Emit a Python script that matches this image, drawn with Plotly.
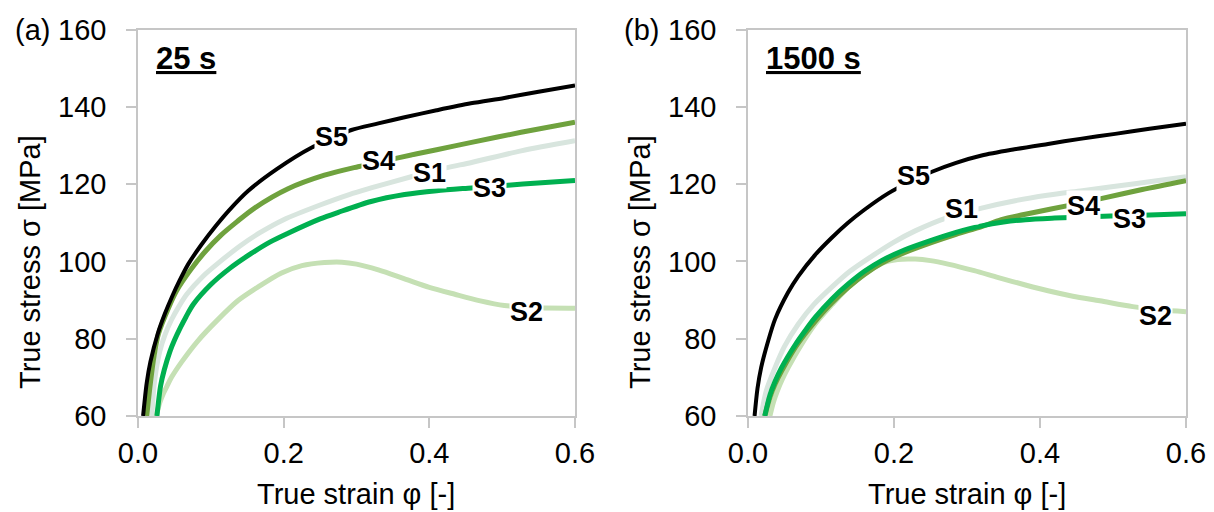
import plotly.graph_objects as go

# ---------------- data ----------------
# Panel (a) 25 s
a_s5_x = [0.007,0.012,0.017,0.027,0.037,0.047,0.057,0.069,0.087,0.107,0.125,0.151,0.19,0.238,0.265,0.293,0.33,0.366,0.41,0.457,0.503,0.55,0.6]
a_s5_y = [60,68.6,74,81.2,86.5,91,95,99.3,104.3,109.2,113.2,118.2,123.8,129.4,131.6,134.0,135.7,137.3,139.1,140.9,142.3,143.9,145.5]
a_s4_x = [0.012,0.017,0.022,0.028,0.042,0.053,0.073,0.092,0.114,0.136,0.16,0.206,0.256,0.302,0.357,0.41,0.458,0.526,0.6]
a_s4_y = [60,68.5,75.5,81.2,88,92.4,98,102.5,106.8,110.3,113.8,118.8,122.3,124.5,126.8,128.9,130.8,133.4,136]
a_s1_x = [0.019,0.022,0.025,0.03,0.037,0.046,0.056,0.067,0.09,0.113,0.14,0.168,0.2,0.25,0.29,0.32,0.375,0.423,0.458,0.526,0.6]
a_s1_y = [60,67.8,72.1,76.8,81,84.9,88.3,91.5,96.3,100,104,107.5,110.8,114.6,117.3,119,121.9,124.2,125.6,128.6,131.2]
a_s3_x = [0.026,0.031,0.036,0.044,0.05,0.058,0.066,0.076,0.1,0.126,0.155,0.181,0.206,0.25,0.275,0.32,0.366,0.41,0.458,0.508,0.549,0.6]
a_s3_y = [60,67.8,71.9,76.8,79.6,82.8,85.7,88.9,94,98.2,102,105,107.3,111,112.7,115.5,117.3,118.3,119,119.7,120.3,120.9]
a_s2_x = [0.025,0.03,0.035,0.04,0.046,0.06,0.082,0.11,0.137,0.165,0.197,0.225,0.256,0.28,0.3,0.33,0.366,0.4,0.435,0.47,0.503,0.55,0.6]
a_s2_y = [60,63.5,65.9,67.8,70,74,79.4,85,89.8,93.4,97,98.9,99.7,99.8,99.3,97.8,95.5,93.3,91.5,89.8,88.6,88,87.9]

# Panel (b) 1500 s
b_s5_x = [0.009,0.013,0.018,0.027,0.037,0.055,0.069,0.092,0.114,0.137,0.159,0.192,0.224,0.252,0.285,0.32,0.365,0.411,0.455,0.503,0.55,0.6]
b_s5_y = [60,67.1,72.5,79,85,92,96.2,101.7,106,110,113.3,117.6,120.8,123.2,125.5,127.4,129,130.4,131.7,133,134.3,135.6]
b_s1_x = [0.018,0.025,0.037,0.05,0.069,0.09,0.114,0.14,0.174,0.2,0.229,0.274,0.32,0.366,0.41,0.458,0.53,0.6]
b_s1_y = [60,66.5,72.5,78,83.8,88.8,93.2,97.5,101.9,105,107.9,111.4,113.8,115.7,117.1,118.3,120.1,121.9]
b_s3_x = [0.023,0.03,0.037,0.046,0.065,0.078,0.092,0.115,0.137,0.16,0.183,0.215,0.252,0.285,0.32,0.35,0.38,0.42,0.46,0.53,0.6]
b_s3_y = [60,65.4,68.9,72.5,78.5,82,85.5,90.3,94.1,97.5,100.2,103,105.5,107.5,109.2,110.2,110.8,111.2,111.5,111.9,112.3]
b_s4_x = [0.023,0.03,0.037,0.046,0.065,0.078,0.092,0.115,0.137,0.16,0.183,0.215,0.252,0.285,0.32,0.347,0.39,0.44,0.485,0.54,0.6]
b_s4_y = [60,64.8,68.2,71.6,77.8,81.2,84.5,89.3,93.2,96.7,99.5,102.3,104.9,107,109,110.8,112.6,114.5,116.3,118.6,120.9]
b_s2_x = [0.03,0.035,0.04,0.047,0.055,0.07,0.092,0.115,0.137,0.16,0.183,0.205,0.229,0.25,0.274,0.31,0.343,0.38,0.411,0.445,0.482,0.527,0.565,0.6]
b_s2_y = [60,63.7,66.4,69.5,72.5,77.5,83.8,88.8,93.2,96.8,99.5,100.5,100.6,100.2,99.3,97.6,95.8,93.9,92.4,91,89.8,88.3,87.4,87.0]

series_names = ["S1", "S2", "S4", "S3", "S5"]
colors = {"S1": "#D8E5DE", "S2": "#C5E0B4", "S3": "#00B050", "S4": "#6FA23E", "S5": "#000000"}
widths = {"S1": 5, "S2": 5, "S3": 5, "S4": 5, "S5": 4}

panel_a = {"S1": (a_s1_x, a_s1_y), "S2": (a_s2_x, a_s2_y), "S3": (a_s3_x, a_s3_y),
           "S4": (a_s4_x, a_s4_y), "S5": (a_s5_x, a_s5_y)}
panel_b = {"S1": (b_s1_x, b_s1_y), "S2": (b_s2_x, b_s2_y), "S3": (b_s3_x, b_s3_y),
           "S4": (b_s4_x, b_s4_y), "S5": (b_s5_x, b_s5_y)}

# label positions (data coords)
labels_a = {"S5": (0.265, 132.1), "S4": (0.330, 126.1), "S1": (0.400, 122.8),
            "S3": (0.483, 119.1), "S2": (0.533, 86.8)}
labels_b = {"S5": (0.227, 122.2), "S1": (0.293, 113.5), "S4": (0.460, 114.4),
            "S3": (0.522, 111.0), "S2": (0.558, 85.9)}

x_ticks = [0.0, 0.2, 0.4, 0.6]
y_ticks = [60, 80, 100, 120, 140, 160]
x_title = "True strain φ [-]"
y_title = "True stress σ [MPa]"
panel_tags = ["(a)", "(b)"]
panel_times = ["25 s", "1500 s"]

# ---------------- figure ----------------
W, H = 1214, 512
FONT = "Liberation Sans, Arial, sans-serif"
fig = go.Figure()

for data, xa, ya in [(panel_a, "x", "y"), (panel_b, "x2", "y2")]:
    for n in series_names:
        xs, ys = data[n]
        fig.add_trace(go.Scatter(x=xs, y=ys, mode="lines", name=n, xaxis=xa, yaxis=ya,
                                 line=dict(color=colors[n], width=widths[n], shape="spline", smoothing=0.8),
                                 showlegend=False, hoverinfo="skip"))

def px2x(p):
    return p / W

def px2y(p):
    return 1 - p / H

y_dom = [px2y(416), px2y(29.5)]
axis_common = dict(showgrid=False, zeroline=False, showline=True, linecolor="#C6C6C6", linewidth=1.5,
                   mirror=True, ticks="outside", ticklen=10, tickwidth=1.5, tickcolor="#C6C6C6",
                   automargin=False,
                   tickfont=dict(family=FONT, size=29, color="#000000"))

fig.update_layout(
    width=W, height=H, margin=dict(l=0, r=0, t=0, b=0, autoexpand=False),
    paper_bgcolor="white", plot_bgcolor="white",
    xaxis=dict(domain=[px2x(138), px2x(575)], range=[0, 0.6], tickvals=x_ticks,
               tickformat=".1f", anchor="y", **axis_common),
    yaxis=dict(domain=y_dom, range=[60, 160], tickvals=y_ticks, anchor="x",
               ticklabelstandoff=14, **axis_common),
    xaxis2=dict(domain=[px2x(748), px2x(1186)], range=[0, 0.6], tickvals=x_ticks,
                tickformat=".1f", anchor="y2", **axis_common),
    yaxis2=dict(domain=y_dom, range=[60, 160], tickvals=y_ticks, anchor="x2",
                ticklabelstandoff=14, **axis_common),
)

ann = []
for labels, xr, yr in [(labels_a, "x", "y"), (labels_b, "x2", "y2")]:
    for n, (lx, ly) in labels.items():
        ann.append(dict(x=lx, y=ly, xref=xr, yref=yr, text="<b>" + n + "</b>", showarrow=False,
                        font=dict(family=FONT, size=27, color="#000000"),
                        bgcolor="white", borderpad=0))

# panel tags, times, axis titles
for tag, time, left_px, ax_left, ax_right, ytitle_px in [
        (panel_tags[0], panel_times[0], 13, 138, 575, 30),
        (panel_tags[1], panel_times[1], 622, 748, 1186, 640)]:
    ann.append(dict(x=px2x(left_px), y=px2y(30), xref="paper", yref="paper", text=tag,
                    showarrow=False, xanchor="left", yanchor="middle",
                    font=dict(family=FONT, size=29, color="#000000")))
    ann.append(dict(x=px2x(ax_left + 16), y=px2y(58), xref="paper", yref="paper",
                    text="<b><u>" + time + "</u></b>", showarrow=False, xanchor="left", yanchor="middle",
                    font=dict(family=FONT, size=31, color="#000000")))
    ann.append(dict(x=px2x((ax_left + ax_right) / 2), y=px2y(494), xref="paper", yref="paper",
                    text=x_title, showarrow=False, xanchor="center", yanchor="middle",
                    font=dict(family=FONT, size=29, color="#000000")))
    ann.append(dict(x=px2x(ytitle_px), y=px2y(262), xref="paper", yref="paper",
                    text=y_title, showarrow=False, xanchor="center", yanchor="middle", textangle=-90,
                    font=dict(family=FONT, size=29, color="#000000")))

fig.update_layout(annotations=ann)
fig.write_html("out.html")
